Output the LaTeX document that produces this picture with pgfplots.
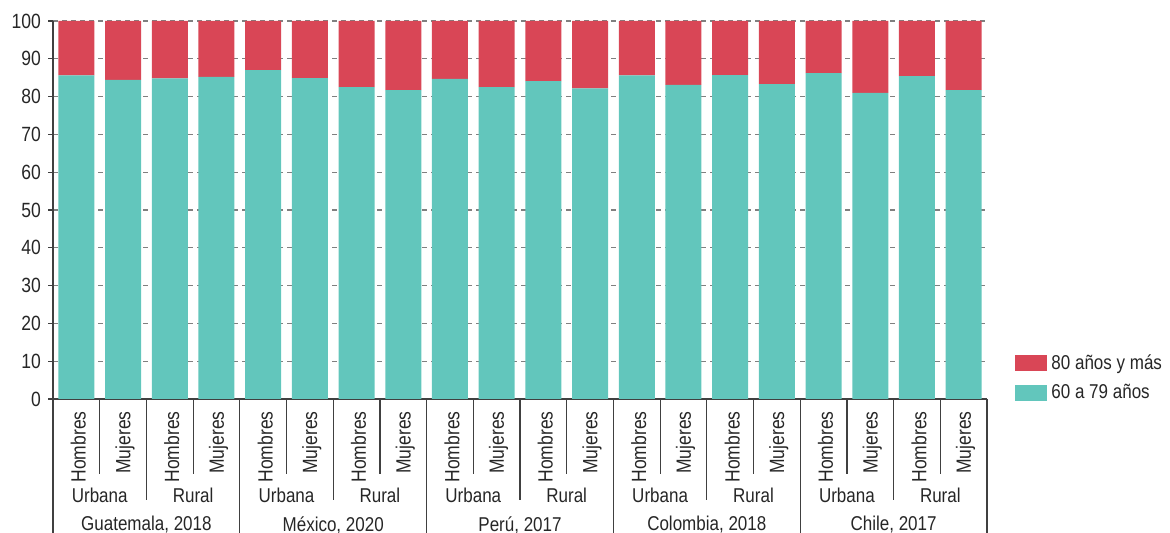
\documentclass[border=0pt]{standalone}
\usepackage{fontspec}
\setmainfont{Liberation Sans}[FakeStretch=0.85]
\usepackage{pgfplots}
\usepackage{pgfplotstable}
\pgfplotsset{compat=1.18}

\definecolor{teal60}{HTML}{62C6BC}
\definecolor{red80}{HTML}{D94656}
\definecolor{txt}{HTML}{262626}
\definecolor{axl}{HTML}{404040}

% x, sexo, 60 a 79 anos, 80 anos y mas
\pgfplotstableread{
x sexo a b
0  Hombres 85.6 14.4
1  Mujeres 84.4 15.6
2  Hombres 84.8 15.2
3  Mujeres 85.2 14.8
4  Hombres 87.0 13.0
5  Mujeres 84.9 15.1
6  Hombres 82.5 17.5
7  Mujeres 81.7 18.3
8  Hombres 84.7 15.3
9  Mujeres 82.5 17.5
10 Hombres 84.1 15.9
11 Mujeres 82.2 17.8
12 Hombres 85.6 14.4
13 Mujeres 83.1 16.9
14 Hombres 85.7 14.3
15 Mujeres 83.3 16.7
16 Hombres 86.2 13.8
17 Mujeres 81.0 19.0
18 Hombres 85.4 14.6
19 Mujeres 81.7 18.3
}\datos

\begin{document}
\begin{tikzpicture}[font=\fontsize{10}{12}\selectfont, text=txt]
\begin{axis}[
    scale only axis,
    clip=false,
    width=467pt, height=189pt,
    ybar stacked,
    bar width=18pt,
    xmin=-0.5, xmax=19.5,
    ymin=0, ymax=100,
    ytick={0,10,...,100},
    xtick=data,
    xticklabels from table={\datos}{sexo},
    % shifts are in the rotated frame
    x tick label style={rotate=90, anchor=east, inner sep=0pt, xshift=-3.5pt, yshift=-1pt},
    x tick style={draw=none},
    y tick style={axl, line width=0.6pt},
    tick align=outside,
    major tick length=2.5pt,
    axis x line*=bottom,
    axis y line*=left,
    axis line style={axl, line width=0.6pt},
    ymajorgrids,
    grid style={gray, dash pattern=on 2.5pt off 2pt, line width=0.6pt},
    /pgf/number format/assume math mode=true,
    ticklabel style={font=\fontsize{10.3}{12}\selectfont, text=txt},
    legend style={at={(1.03,-0.018)}, anchor=south west, draw=none, fill=none,
        inner sep=0pt, row sep=2pt, font=\fontsize{10}{12}\selectfont,
        legend cell align=left},
    reverse legend,
]
\addplot[fill=teal60, draw=none,
    legend image code/.code={\fill[teal60] (0pt,-4pt) rectangle (16pt,4pt);}]
    table[x=x, y=a] {\datos};
\addplot[fill=red80, draw=none,
    legend image code/.code={\fill[red80] (0pt,-4pt) rectangle (16pt,4pt);}]
    table[x=x, y=b] {\datos};
\legend{60 a 79 años, 80 años y más}

\coordinate (O) at (rel axis cs:0,0);
% separators below the axis
\pgfplotsinvokeforeach{0.5,2.5,...,18.5}{
  \draw[axl, line width=0.6pt] (axis cs:#1,0) -- ++(0pt,-37.5pt);
}
\pgfplotsinvokeforeach{1.5,5.5,9.5,13.5,17.5}{
  \draw[axl, line width=0.6pt] (axis cs:#1,0) -- ++(0pt,-50.5pt);
}
\pgfplotsinvokeforeach{-0.5,3.5,7.5,11.5,15.5,19.5}{
  \draw[axl, line width=0.6pt] (axis cs:#1,0) -- ++(0pt,-75pt);
}
\pgfplotsinvokeforeach{0.5,4.5,8.5,12.5,16.5}{
  \node at ([yshift=-48pt]axis cs:#1,0) {Urbana};
}
\pgfplotsinvokeforeach{2.5,6.5,10.5,14.5,18.5}{
  \node at ([yshift=-48pt]axis cs:#1,0) {Rural};
}
\node at ([yshift=-63pt]axis cs:1.5,0) {Guatemala, 2018};
\node at ([yshift=-63pt]axis cs:5.5,0) {México, 2020};
\node at ([yshift=-63pt]axis cs:9.5,0) {Perú, 2017};
\node at ([yshift=-63pt]axis cs:13.5,0) {Colombia, 2018};
\node at ([yshift=-63pt]axis cs:17.5,0) {Chile, 2017};
\end{axis}
\pgfresetboundingbox
\path[use as bounding box] ([shift={(-26.5pt,-67pt)}]O) rectangle ([shift={(558.5pt,199.5pt)}]O);
\end{tikzpicture}
\end{document}
